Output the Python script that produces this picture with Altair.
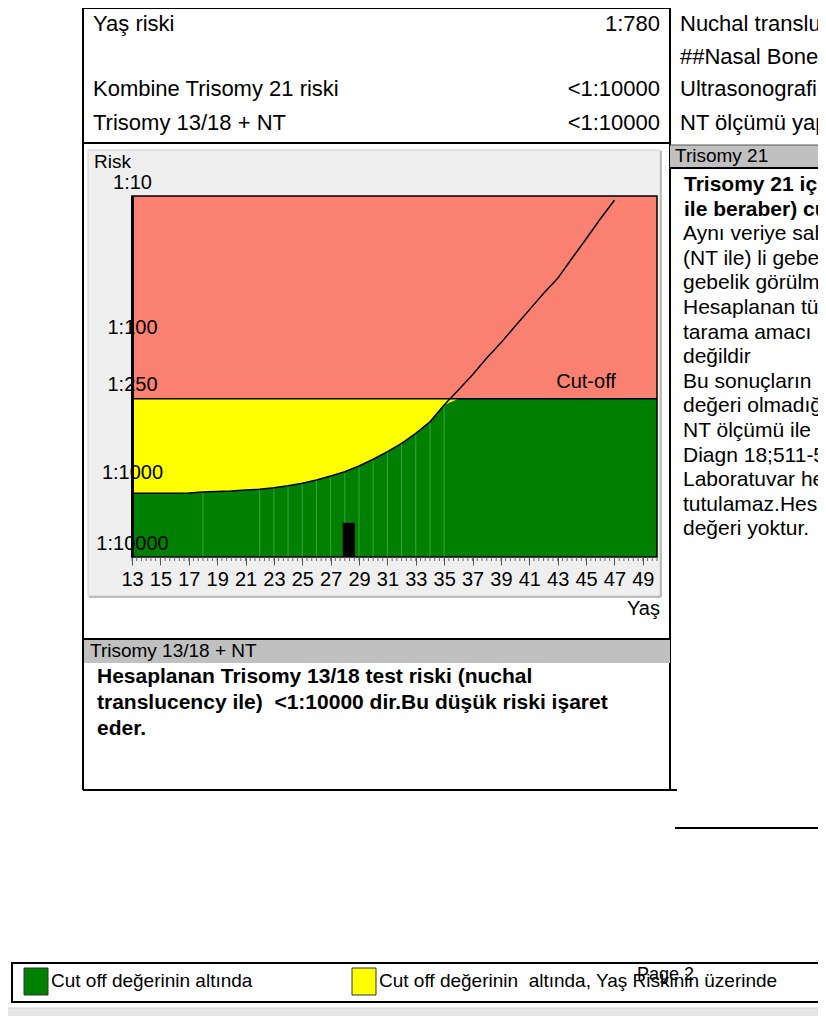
import altair as alt
import pandas as pd

# ---------------- data ----------------
ages = list(range(13, 48))
age_risk = [1270, 1270, 1265, 1260, 1255, 1215, 1195, 1176, 1139, 1113, 1057, 995,
            957, 909, 853, 797, 728, 654, 580, 508, 433, 361, 276, 218, 171, 131,
            103, 79, 61, 47, 37, 27, 19.8, 14.4, 10.7]
cutoff = 250
seam_ages = [18, 22, 23, 24, 25, 26, 27, 28, 29, 30, 31, 32, 33, 34, 35]
patient_bar = {"a0": 27.85, "a1": 28.7, "r0": 3300, "r1": 10000}
x_tick_labels = list(range(13, 50, 2))
x_minor_ticks = [13 + i / 3 for i in range(112)]
y_tick_values = [10, 100, 250, 1000, 10000]

NB = "\u00a0"
top_rows_left = [("Yaş riski", "1:780"), ("Kombine Trisomy 21 riski", "<1:10000"),
                 ("Trisomy 13/18 + NT", "<1:10000")]
top_rows_right = ["Nuchal transluc", "##Nasal Bone", "Ultrasonografi", "NT ölçümü yap"]
t21_header = "Trisomy 21"
t21_lines_bold = ["Trisomy 21 iç", "ile beraber) cu"]
t21_lines = ["Aynı veriye sah", "(NT ile) li gebe", "gebelik görülm",
             "Hesaplanan tü", "tarama amacı", "değildir", "Bu sonuçların",
             "değeri olmadığ", "NT ölçümü ile", "Diagn 18;511-5", "Laboratuvar he",
             "tutulamaz.Hes", "değeri yoktur."]
t1318_header = "Trisomy 13/18 + NT"
t1318_lines = ["Hesaplanan Trisomy 13/18 test riski (nuchal",
               "translucency ile)" + NB + " <1:10000 dir.Bu düşük riski işaret",
               "eder."]
legend_green = "Cut off değerinin altında"
legend_yellow = "Cut off değerinin" + NB + " altında, Yaş Riskinin üzerinde"
page_label = "Page 2"

# ---------------- layout (page pixels) ----------------
PX0, PY0 = 132, 196          # plot origin on the page
PW, PH = 525, 361
FONT = "Liberation Sans"

curve = pd.DataFrame({"age": ages, "risk": age_risk})
dummy = pd.DataFrame({"d": [0]})

xscale = alt.Scale(domain=[13, 50], nice=False, zero=False)
yscale = alt.Scale(type="log", domain=[10, 1000, 10000], range=[0, 290, 361], nice=False)
xaxis = alt.Axis(values=x_tick_labels, title=None, grid=False, domain=False,
                 tickSize=8, tickColor="#555555", tickWidth=1, labelPadding=4,
                 labelFont=FONT, labelFontSize=20, labelColor="black",
                 labelFlush=False, labelOverlap=False, zindex=1)
yaxis = alt.Axis(values=y_tick_values, title=None, grid=False, domain=True,
                 domainColor="black", domainWidth=3, ticks=False, tickSize=0,
                 labelPadding=0, labelAlign="center", labelBaseline="alphabetic",
                 labelOffset=-8, labelExpr="'1:' + datum.value", labelFont=FONT,
                 labelFontSize=20, labelColor="black", labelFlush=False,
                 labelOverlap=False, labelBound=False, zindex=1)


def X(f):
    return alt.X(f, type="quantitative", scale=xscale, axis=xaxis)


def Y(f):
    return alt.Y(f, type="quantitative", scale=yscale, axis=yaxis)


def txt(s, sx, sy, size=22, weight="normal", align="left", color="black", baseline="middle"):
    return alt.Chart(dummy).mark_text(text=s, fontSize=size, fontWeight=weight, align=align,
                                      baseline=baseline, font=FONT, color=color).encode(
        x=alt.value(sx - PX0), y=alt.value(sy - PY0))


def line(x1, y1, x2, y2, w=2, color="black"):
    return alt.Chart(dummy).mark_rule(color=color, strokeWidth=w).encode(
        x=alt.value(x1 - PX0), x2=alt.value(x2 - PX0),
        y=alt.value(y1 - PY0), y2=alt.value(y2 - PY0))


def box(x1, y1, x2, y2, fill, stroke=None, sw=1):
    kw = dict(fill=fill)
    if stroke:
        kw.update(stroke=stroke, strokeWidth=sw)
    return alt.Chart(dummy).mark_rect(**kw).encode(
        x=alt.value(x1 - PX0), x2=alt.value(x2 - PX0),
        y=alt.value(y1 - PY0), y2=alt.value(y2 - PY0))


layers = []

# chart panel background
layers.append(box(88, 150, 660, 596, "#efefef", "#d0d0d0", 1))
layers.append(line(89, 597, 661, 597, 2, "#bdbdbd"))
layers.append(line(661, 151, 661, 597, 2, "#bdbdbd"))

# ---- risk plot through scales ----
full = pd.DataFrame({"a0": [13], "a1": [50], "r0": [10], "r1": [10000]})
layers.append(alt.Chart(full).mark_rect(color="#fa8072").encode(
    x=X("a0"), x2="a1", y=Y("r0"), y2="r1"))
yel = pd.DataFrame({"a0": [13], "a1": [50], "r0": [cutoff], "r1": [10000]})
layers.append(alt.Chart(yel).mark_rect(color="#ffff00").encode(
    x=X("a0"), x2="a1", y=Y("r0"), y2="r1"))
layers.append(alt.Chart(curve).transform_calculate(top=f"max(datum.risk, {cutoff})")
              .mark_area(color="#008000").encode(x=X("age"), y=Y("top:Q"), y2=alt.datum(10000)))
grn = pd.DataFrame({"a0": [36], "a1": [50], "r0": [cutoff], "r1": [10000]})
layers.append(alt.Chart(grn).mark_rect(color="#008000").encode(
    x=X("a0"), x2="a1", y=Y("r0"), y2="r1"))
layers.append(alt.Chart(curve).transform_filter(alt.FieldOneOfPredicate(field="age", oneOf=seam_ages))
              .transform_calculate(top=f"max(datum.risk, {cutoff})")
              .mark_rule(color="#3f9f3f", strokeWidth=1).encode(x=X("age"), y=Y("top:Q"), y2=alt.datum(10000)))
layers.append(alt.Chart(pd.DataFrame([patient_bar])).mark_rect(color="black").encode(
    x=X("a0"), x2="a1", y=Y("r0"), y2="r1"))
layers.append(alt.Chart(pd.DataFrame({"a0": [13], "a1": [50], "r": [cutoff]}))
              .mark_rule(color="black", strokeWidth=1.5).encode(x=X("a0"), x2="a1", y=Y("r")))
layers.append(alt.Chart(curve).mark_line(color="black", strokeWidth=1.5).encode(
    x=X("age"), y=Y("risk")))
layers.append(alt.Chart(full).mark_rect(filled=False, stroke="black", strokeWidth=1.5).encode(
    x=X("a0"), x2="a1", y=Y("r0"), y2="r1"))
layers.append(alt.Chart(pd.DataFrame({"a": [45], "r": [cutoff]})).mark_text(
    text="Cut-off", font=FONT, fontSize=20, dy=-17, color="black").encode(x=X("a"), y=Y("r")))
layers.append(alt.Chart(pd.DataFrame({"a": x_minor_ticks})).mark_rule(
    color="#666666", strokeWidth=1).encode(x=X("a"), y=alt.value(PH), y2=alt.value(PH + 4)))

# chart texts
layers.append(txt("Risk", 94, 162, 19))
layers.append(txt("Yaş", 660, 609, 20, align="right"))

# ---- document frame ----
layers.append(line(83, 8, 670, 8, 2))
layers.append(line(83, 8, 83, 790, 2))
layers.append(line(670, 8, 670, 790, 2))
layers.append(line(83, 143, 670, 143, 2))
layers.append(box(670, 145, 830, 168, "#c0c0c0"))
layers.append(line(670, 145, 830, 145, 1, "#555555"))
layers.append(line(670, 168, 830, 168, 2))
layers.append(box(84, 640, 670, 663, "#c0c0c0"))
layers.append(line(83, 639, 670, 639, 2))
layers.append(line(83, 790, 677, 790, 2))
layers.append(line(675, 828, 830, 828, 2))

# top table
for i, (lab, val) in enumerate(top_rows_left):
    yy = [24, 89, 123][i]
    layers.append(txt(lab, 93, yy))
    layers.append(txt(val, 660, yy, align="right"))
for i, lab in enumerate(top_rows_right):
    layers.append(txt(lab, 680, [24, 57, 89, 123][i]))

# Trisomy 21 column
layers.append(txt(t21_header, 675, 156, 19))
for i, s in enumerate(t21_lines_bold):
    layers.append(txt(s, 684, 185 + 24.6 * i, 21, weight="bold"))
for i, s in enumerate(t21_lines):
    layers.append(txt(s, 683, 185 + 24.6 * (i + 2), 21))

# Trisomy 13/18 box
layers.append(txt(t1318_header, 90, 651, 19))
for i, s in enumerate(t1318_lines):
    layers.append(txt(s, 97, 677 + 26 * i, 21, weight="bold"))

# bottom legend
layers.append(box(12, 963, 830, 1002, "white", "black", 2))
layers.append(box(24, 968, 48, 995, "#008000", "#333333", 1))
layers.append(box(352, 968, 376, 995, "#ffff00", "#333333", 1))
layers.append(txt(legend_green, 51, 981, 19))
layers.append(txt(legend_yellow, 379, 981, 19))
layers.append(txt(page_label, 637, 975, 18))
layers.append(box(0, 1008, 830, 1030, "#e6e6e6"))
layers.append(line(0, 1008, 830, 1008, 1, "#cfcfcf"))

chart = alt.layer(*layers).properties(
    width=PW, height=PH,
    padding={"left": PX0 - 8, "top": PY0 - 8, "right": 810 - (PX0 - 8) - PW,
             "bottom": 1008 - (PY0 - 8) - PH},
    autosize=alt.AutoSizeParams(type="none"),
).configure_view(stroke=None)

chart.save("out.html", embed_options={"renderer": "svg", "actions": False})
